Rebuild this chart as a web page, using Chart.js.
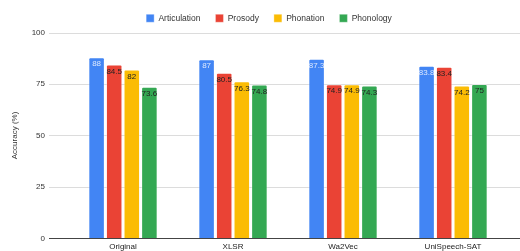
<!DOCTYPE html>
<html lang="en">
<head>
    <meta charset="UTF-8">
    <title>Accuracy by Model</title>
    <script src="https://cdn.jsdelivr.net/npm/chart.js"></script>
    <style>
        html, body { margin: 0; padding: 0; background: #fff; }
        #wrap { width: 520px; height: 251px; }
    </style>
</head>
<body>
    <div id="wrap"><canvas id="accChart" width="520" height="251"></canvas></div>
    <script>
        // data
        const models = ['Original', 'XLSR', 'Wa2Vec', 'UniSpeech-SAT'];
        const articulation = [88, 87, 87.3, 83.8];
        const prosody = [84.5, 80.5, 74.9, 83.4];
        const phonation = [82, 76.3, 74.9, 74.2];
        const phonology = [73.6, 74.8, 74.3, 75];
        const yTicks = [0, 25, 50, 75, 100];

        const FONT = 'Liberation Sans, Arial, sans-serif';

        // horizontal grid lines run wider than the category band
        const gridPlugin = {
            id: 'wideGrid',
            beforeDatasetsDraw(chart) {
                const ctx = chart.ctx;
                const y = chart.scales.y;
                ctx.save();
                ctx.lineWidth = 1;
                ctx.strokeStyle = '#dcdcdc';
                yTicks.forEach(t => {
                    if (t === 0) return;
                    const py = Math.round(y.getPixelForValue(t)) + 0.5;
                    ctx.beginPath();
                    ctx.moveTo(49, py);
                    ctx.lineTo(520, py);
                    ctx.stroke();
                });
                ctx.restore();
            },
            afterDatasetsDraw(chart) {
                const ctx = chart.ctx;
                const y = chart.scales.y;
                ctx.save();
                ctx.strokeStyle = '#444';
                ctx.lineWidth = 1;
                const py = Math.round(y.getPixelForValue(0)) + 0.5;
                ctx.beginPath();
                ctx.moveTo(49, py);
                ctx.lineTo(520, py);
                ctx.stroke();

                // value labels just inside the bar tops
                ctx.font = '8px ' + FONT;
                ctx.textAlign = 'center';
                ctx.textBaseline = 'top';
                chart.data.datasets.forEach((ds, i) => {
                    chart.getDatasetMeta(i).data.forEach((bar, j) => {
                        ctx.fillStyle = i === 0 ? '#dce8fd' : '#222';
                        ctx.fillText(String(ds.data[j]), bar.x, bar.y + 3);
                    });
                });
                ctx.restore();
            }
        };

        function barSet(label, data, color) {
            return {
                label: label,
                data: data,
                backgroundColor: color,
                borderColor: 'rgba(255,255,255,0.35)',
                borderWidth: 1,
                borderRadius: 2,
                borderSkipped: 'bottom',
                categoryPercentage: 0.64,
                barPercentage: 0.94
            };
        }

        new Chart(document.getElementById('accChart').getContext('2d'), {
            type: 'bar',
            data: {
                labels: models,
                datasets: [
                    barSet('Articulation', articulation, '#4285f4'),
                    barSet('Prosody', prosody, '#ea4335'),
                    barSet('Phonation', phonation, '#fbbc04'),
                    barSet('Phonology', phonology, '#34a853')
                ]
            },
            options: {
                responsive: false,
                animation: false,
                layout: { padding: { left: 30, right: 12, top: -1, bottom: -5 } },
                plugins: {
                    legend: {
                        position: 'top',
                        labels: {
                            font: { family: FONT, size: 8.5 },
                            color: '#333',
                            boxWidth: 8,
                            boxHeight: 8,
                            padding: 15
                        }
                    },
                    tooltip: { enabled: false }
                },
                scales: {
                    x: {
                        grid: { display: false, drawTicks: false },
                        border: { display: false },
                        ticks: { font: { family: FONT, size: 8 }, color: '#222', padding: 4 }
                    },
                    y: {
                        min: 0,
                        max: 100,
                        afterFit(scale) {
                            scale.width = 38;
                            // the wide label gap should not push the plot area in
                            scale.paddingTop = 0;
                            scale.paddingBottom = 0;
                        },
                        afterBuildTicks(scale) { scale.ticks = yTicks.map(v => ({ value: v })); },
                        grid: { display: false, drawTicks: false },
                        border: { display: false },
                        ticks: { font: { family: FONT, size: 8 }, color: '#333', padding: 23 },
                        title: {
                            display: true,
                            text: 'Accuracy (%)',
                            font: { family: FONT, size: 8 },
                            color: '#333',
                            padding: { top: -20, bottom: 0 }
                        }
                    }
                }
            },
            plugins: [gridPlugin]
        });
    </script>
</body>
</html>
